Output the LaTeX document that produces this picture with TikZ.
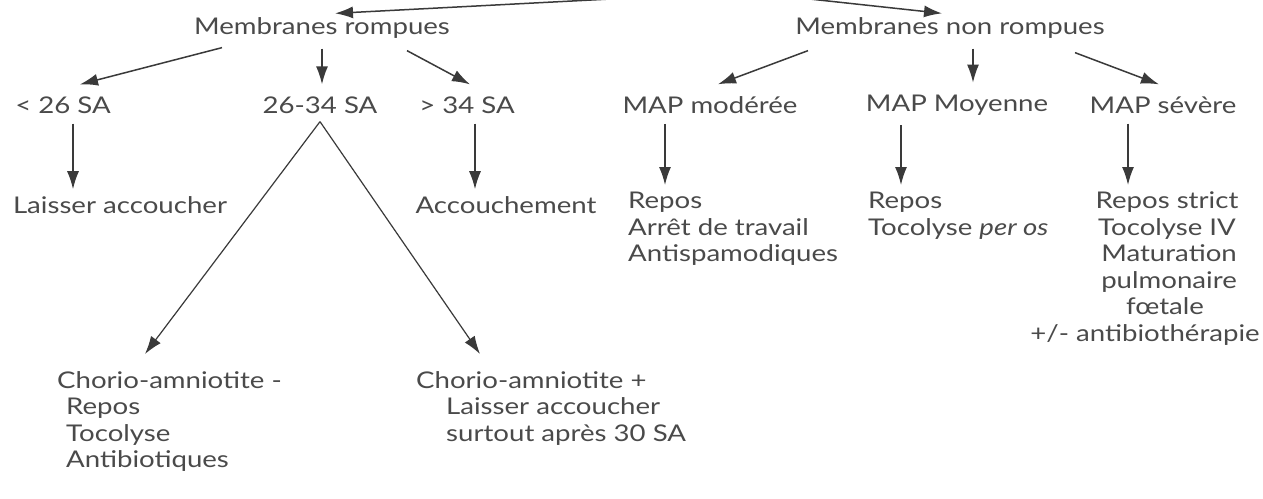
\documentclass[tikz,border=0pt]{standalone}
\usepackage{fontspec}
\setmainfont{Lato}[FakeStretch=1.2]
\usepackage{xcolor}
\usetikzlibrary{arrows.meta}
\definecolor{inkgray}{HTML}{4a4a4a}
\definecolor{linegray}{HTML}{3a3a3a}

\begin{document}
\begin{tikzpicture}[x=1pt, y=-1pt,
            lbl/.style={inner sep=0pt, text=inkgray, font=\fontsize{23}{26.5}\selectfont},
            txt/.style={lbl, anchor=north west, align=left},
            arr/.style={draw=linegray, line width=1.5pt, -{Latex[length=18pt, width=12pt]}},
            leg/.style={draw=linegray, line width=1.2pt}]
            \clip (0,0) rectangle (1263,498);
            \useasboundingbox (0,0) rectangle (1263,498);
            \fill[white] (0,0) rectangle (1263,498);

            \coordinate (origin) at (745,-8);
            \node[lbl] (mr) at (322,28) {Membranes rompues};
            \node[lbl] (mnr) at (950,28) {Membranes non rompues};

            \node[lbl] (lt26) at (63,105) {< 26 SA};
            \node[lbl] (r2634) at (320,105) {26-34 SA};
            \node[lbl] (gt34) at (467,105) {> 34 SA};
            \node[lbl] (mmod) at (710,105) {MAP modérée};
            \node[lbl] (mmoy) at (957,105) {MAP Moyenne};
            \node[lbl] (msev) at (1163,105) {MAP sévère};

            \node[lbl] (laisser) at (120,205) {Laisser accoucher};
            \node[lbl] (acc) at (506,205) {Accouchement};
            \node[txt] (tmod) at (628,192) {Repos\\Arrêt de travail\\Antispamodiques};
            \node[txt] (tmoy) at (868,192) {Repos\\Tocolyse \textit{per os}};
            \node[lbl, anchor=north, align=center] (tsev) at (1145,192) {\hspace*{44pt}Repos strict\\\hspace*{44pt}Tocolyse IV\\\hspace*{48pt}Maturation\\\hspace*{48pt}pulmonaire\\\hspace*{40pt}fœtale\\+/- antibiothérapie};

            \node[txt] (chm) at (57,371) {Chorio-amniotite -\\\hspace*{9pt}Repos\\\hspace*{9pt}Tocolyse\\\hspace*{9pt}Antibiotiques};
            \node[txt] (chp) at (416,371) {Chorio-amniotite +\\\hspace*{30pt}Laisser accoucher\\\hspace*{30pt}surtout après 30 SA};

            \draw[arr] (origin) -- ([xshift=13pt, yshift=4pt]mr.north);
            \draw[arr] (origin) -- ([xshift=-8pt, yshift=4pt]mnr.north);

            \draw[arr] ([xshift=-100pt, yshift=-9pt]mr.south) -- ([xshift=17pt, yshift=12pt]lt26.north);
            \draw[arr] ([yshift=-10pt]mr.south) -- ([xshift=2pt, yshift=12pt]r2634.north);
            \draw[arr] ([xshift=85pt, yshift=-12pt]mr.south) -- ([xshift=3pt, yshift=12pt]gt34.north);

            \draw[arr] ([xshift=-142pt, yshift=-12pt]mnr.south) -- ([xshift=8pt, yshift=12pt]mmod.north);
            \draw[arr] ([xshift=23pt, yshift=-10pt]mnr.south) -- ([xshift=16pt, yshift=12pt]mmoy.north);
            \draw[arr] ([xshift=125pt, yshift=-14pt]mnr.south) -- ([xshift=-4pt, yshift=12pt]msev.north);

            \draw[arr] ([xshift=10pt, yshift=-10pt]lt26.south) -- ([xshift=-47pt, yshift=7pt]laisser.north);
            \draw[arr] ([xshift=8pt, yshift=-10pt]gt34.south) -- ([xshift=-31pt, yshift=7pt]acc.north);
            \draw[arr] ([xshift=-45pt, yshift=-10pt]mmod.south) -- ([xshift=37pt, yshift=7pt]tmod.north west);
            \draw[arr] ([xshift=-56pt, yshift=-10pt]mmoy.south) -- ([xshift=33pt, yshift=7pt]tmoy.north west);
            \draw[arr] ([xshift=-35pt, yshift=-10pt]msev.south) -- ([xshift=-17pt, yshift=7pt]tsev.north);

            \draw[leg, -{Latex[length=18pt, width=12pt]}] ([yshift=-8pt]r2634.south) -- ([xshift=88pt, yshift=17pt]chm.north west);
            \draw[leg, -{Latex[length=18pt, width=12pt]}] ([yshift=-8pt]r2634.south) -- ([xshift=64pt, yshift=17pt]chp.north west);
        \end{tikzpicture}
\end{document}
